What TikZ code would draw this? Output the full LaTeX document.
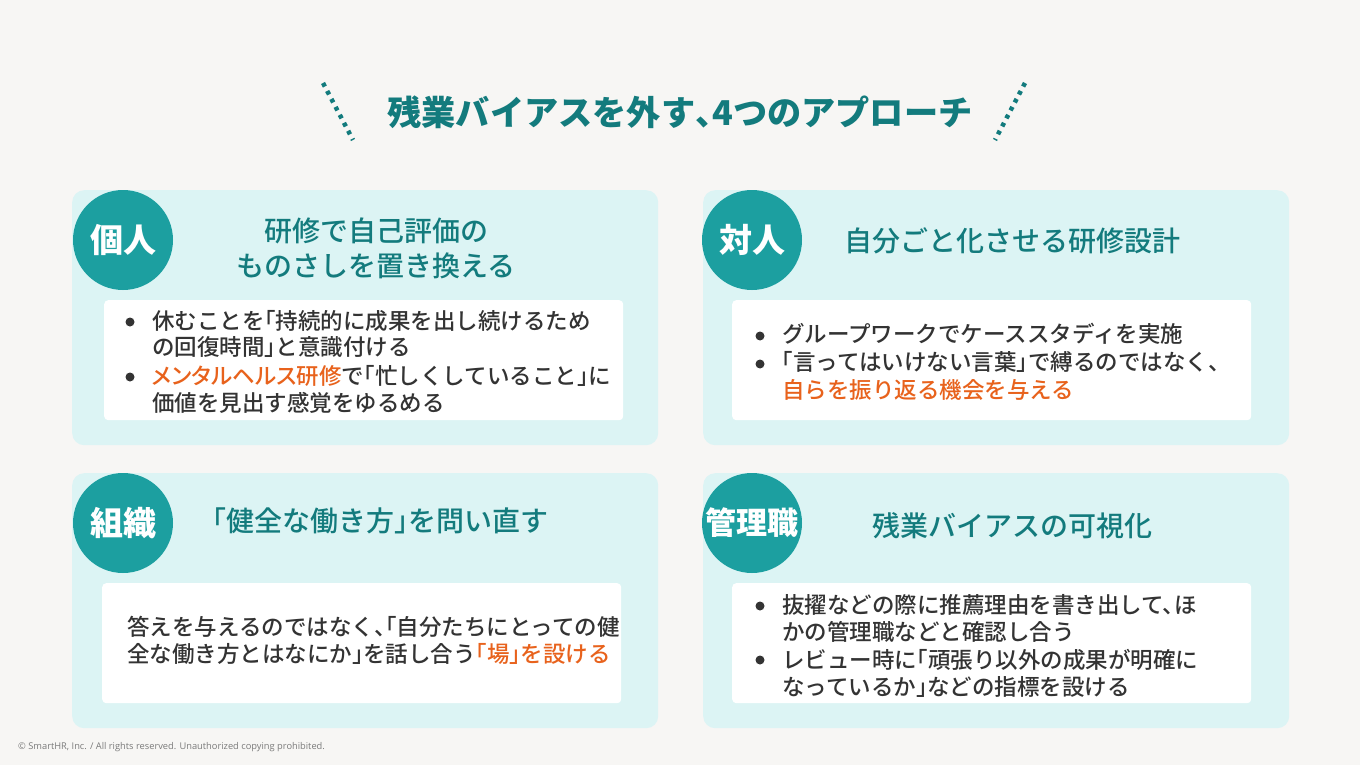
\documentclass[tikz,border=0pt]{standalone}
\usepackage{fontspec}
\setmainfont{Noto Sans CJK JP}
\newfontfamily\jpmed{Noto Sans CJK JP Medium}[RawFeature=+halt]
\newfontfamily\cpfont{Open Sans}
\definecolor{bgc}{HTML}{F7F6F4}
\definecolor{panelc}{HTML}{DCF4F4}
\definecolor{badgec}{HTML}{1C9FA0}
\definecolor{titlec}{HTML}{137B7D}
\definecolor{bodyc}{HTML}{333333}
\definecolor{orangec}{HTML}{E8621C}
\definecolor{cpc}{HTML}{7A7A7A}
\begin{document}
\begin{tikzpicture}[x=1pt,y=-1pt,
  panel/.style={fill=panelc, rounded corners=12pt, minimum width=586pt, minimum height=255pt, anchor=north west, inner sep=0pt},
  wbox/.style={fill=white, rounded corners=4pt, minimum width=519pt, minimum height=120pt, anchor=north west, inner sep=0pt},
  badge/.style={circle, fill=badgec, minimum size=100pt, inner sep=0pt, text=white, font=\bfseries\fontsize{33}{35}\selectfont},
  ptitle/.style={text=titlec, font=\jpmed\fontsize{28}{35}\selectfont, align=center, inner sep=0pt},
  body/.style={text=bodyc, font=\jpmed\fontsize{22.5}{27}\selectfont, anchor=base west, inner sep=0pt},
  bulletdot/.style={circle, fill=bodyc, minimum size=9pt, inner sep=0pt},
  dotline/.style={draw=titlec, line width=4.5pt, dash pattern=on 4pt off 5pt}
]
\fill[bgc] (0,0) rectangle (1360,765);
\useasboundingbox (0,0) rectangle (1360,765);

% main title
\node[text=titlec, font=\bfseries\fontsize{34.2}{37}\selectfont, inner sep=0pt] (title) at (680,112) {残業バイアスを外す{\addfontfeature{RawFeature=+halt}、}4つのアプローチ};
\draw[dotline] (323,83) -- (353,140);
\draw[dotline] (1025,83) -- (995,140);

% panels
\node[panel] (p1) at (72,190) {};
\node[panel] (p2) at (703,190) {};
\node[panel] (p3) at (72,473) {};
\node[panel] (p4) at (703,473) {};

% white boxes
\node[wbox] (w1) at (104,300) {};
\node[wbox] (w2) at (732,300) {};
\node[wbox] (w3) at (102,583) {};
\node[wbox] (w4) at (732,583) {};

% badges
\node[badge] (b1) at (123,240) {個人};
\node[badge] (b2) at (752,240) {対人};
\node[badge] (b3) at (123,523) {組織};
\node[badge, font=\bfseries\fontsize{31}{33}\selectfont] (b4) at (752,523) {管理職};

% panel titles
\node[ptitle] (t1) at (376,248) {研修で自己評価の\\ものさしを置き換える};
\node[ptitle] (t2) at (1012,241) {自分ごと化させる研修設計};
\node[ptitle] (t3) at (380,521) {「健全な働き方」を問い直す};
\node[ptitle] (t4) at (1012,526) {残業バイアスの可視化};

% panel 1 body
\node[bulletdot] (d11) at (130,322) {};
\node[bulletdot] (d12) at (130,377) {};
\node[body] (l11) at (152,329) {休むことを「持続的に成果を出し続けるため};
\node[body] (l12) at (152,355) {の回復時間」と意識付ける};
\node[body] (l13) at (152,384) {\textcolor{orangec}{\addfontfeature{RawFeature=+palt}メンタルヘルス}\textcolor{orangec}{研修}で「忙しくしていること」に};
\node[body] (l14) at (152,411) {価値を見出す感覚をゆるめる};

% panel 2 body
\node[bulletdot] (d21) at (760,336) {};
\node[bulletdot] (d22) at (760,364) {};
\node[body] (l21) at (782,342) {グループワークでケーススタディを実施};
\node[body] (l22) at (782,370) {「言ってはいけない言葉」で縛るのではなく、};
\node[body] (l23) at (782,398) {\textcolor{orangec}{自らを振り返る機会を与える}};

% panel 3 body
\node[body] (l31) at (127,635) {答えを与えるのではなく、「自分たちにとっての健};
\node[body] (l32) at (127,662) {全な働き方とはなにか」を話し合う\textcolor{orangec}{「場」を設ける}};

% panel 4 body
\node[bulletdot] (d41) at (760,606) {};
\node[bulletdot] (d42) at (760,660) {};
\node[body] (l41) at (782,613) {抜擢などの際に推薦理由を書き出して、ほ};
\node[body] (l42) at (782,640) {かの管理職などと確認し合う};
\node[body] (l43) at (782,668) {レビュー時に「頑張り以外の成果が明確に};
\node[body] (l44) at (782,695) {なっているか」などの指標を設ける};

% copyright
\node[anchor=west, inner sep=0pt, text=cpc, font=\cpfont\fontsize{9.3}{11}\selectfont] (cp) at (18,747) {© SmartHR, Inc. / All rights reserved. Unauthorized copying prohibited.};
\end{tikzpicture}
\end{document}
